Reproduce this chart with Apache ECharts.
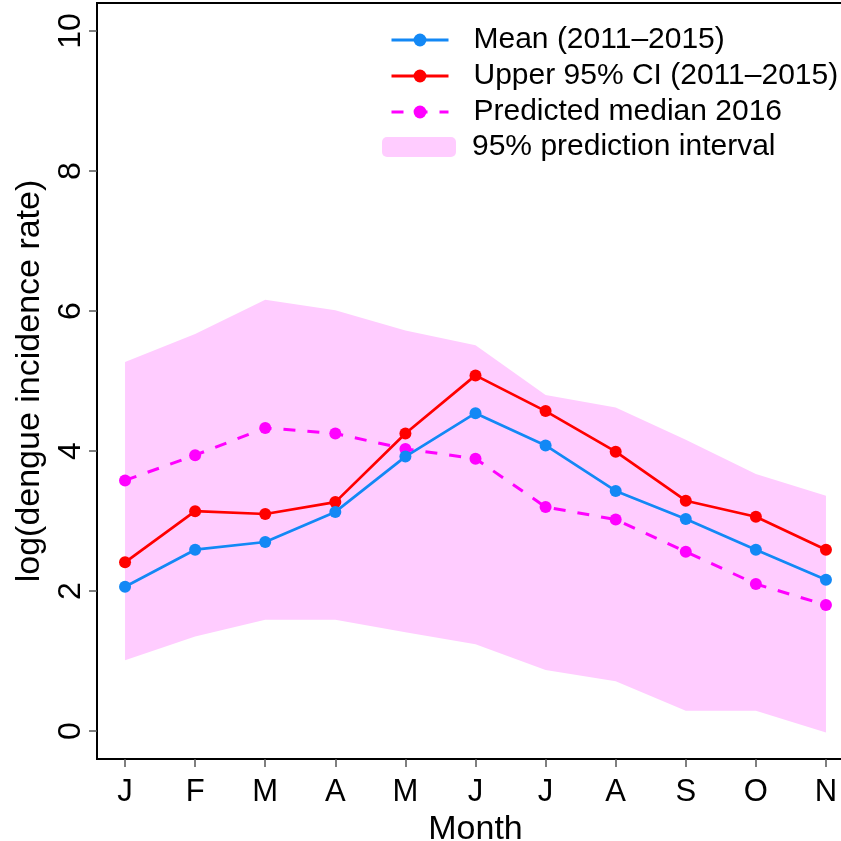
<!DOCTYPE html>
<html>
<head>
<meta charset="utf-8">
<script src="https://cdn.jsdelivr.net/npm/echarts@6/dist/echarts.min.js"></script>
<style>
    html, body { margin: 0; padding: 0; background: #fff; }
    #chart { width: 841px; height: 841px; }
</style>
</head>
<body>
<div id="chart"></div>
<script>
    'use strict'

    var months = ['J', 'F', 'M', 'A', 'M', 'J', 'J', 'A', 'S', 'O', 'N'];
    var meanRate = [2.06, 2.59, 2.70, 3.13, 3.92, 4.54, 4.08, 3.43, 3.03, 2.59, 2.16];
    var upperCI = [2.41, 3.14, 3.10, 3.27, 4.25, 5.08, 4.57, 3.99, 3.29, 3.06, 2.59];
    var predMedian = [3.58, 3.94, 4.33, 4.25, 4.03, 3.89, 3.20, 3.02, 2.56, 2.10, 1.80];
    var piLower = [1.01, 1.35, 1.59, 1.59, 1.41, 1.24, 0.87, 0.71, 0.29, 0.29, -0.02];
    var piUpper = [5.27, 5.67, 6.16, 6.01, 5.72, 5.51, 4.80, 4.62, 4.16, 3.67, 3.36];
    var yTicks = [0, 2, 4, 6, 8, 10];

    var font = 'Liberation Sans, Arial, Helvetica, sans-serif';
    var monthIdx = months.map(function (m, i) { return i; });

    function pairs(arr) {
        return arr.map(function (v, i) { return [i, v]; });
    }

    // one polygon for the prediction band: upper edge left->right, lower edge back
    function renderBand(params, api) {
        var pts = [];
        for (var i = 0; i < piUpper.length; i++) {
            pts.push(api.coord([i, piUpper[i]]));
        }
        for (var j = piLower.length - 1; j >= 0; j--) {
            pts.push(api.coord([j, piLower[j]]));
        }
        return {
            type: 'polygon',
            shape: { points: pts },
            style: { fill: '#ffccff' }
        };
    }

    var chart = echarts.init(document.getElementById('chart'));
    var option = {
        animation: false,
        backgroundColor: '#fff',
        grid: {
            left: 97,
            right: -13,
            top: 3,
            bottom: 82,
            outerBoundsMode: 'none',
            containLabel: false,
            show: true,
            borderColor: '#000',
            borderWidth: 2,
            backgroundColor: 'transparent'
        },
        legend: [{
            orient: 'vertical',
            left: 390,
            top: 25,
            padding: 0,
            itemGap: 6,
            itemWidth: 57,
            itemHeight: 16,
            lineStyle: { width: 3 },
            data: ['Mean (2011\u20132015)', 'Upper 95% CI (2011\u20132015)', 'Predicted median 2016'],
            textStyle: {
                fontFamily: font,
                fontSize: 30,
                lineHeight: 30,
                color: '#000',
                padding: [0, 0, 0, 20]
            }
        }, {
            orient: 'vertical',
            left: 382,
            top: 132,
            padding: 0,
            itemWidth: 74,
            itemHeight: 20,
            data: [{
                name: '95% prediction interval',
                icon: 'roundRect',
                itemStyle: { color: '#ffccff', opacity: 1 }
            }],
            textStyle: {
                fontFamily: font,
                fontSize: 30,
                lineHeight: 30,
                color: '#000',
                padding: [0, 0, 0, 11]
            }
        }],
        xAxis: {
            type: 'value',
            min: -0.4,
            max: 10.4,
            name: 'Month',
            nameLocation: 'middle',
            nameGap: 50,
            nameTextStyle: { fontFamily: font, fontSize: 34, color: '#000' },
            splitLine: { show: false },
            axisLine: { show: true, onZero: false, lineStyle: { color: '#000', width: 2 } },
            axisTick: {
                show: true,
                customValues: monthIdx,
                length: 8,
                lineStyle: { color: '#555', width: 1.5 }
            },
            axisLabel: {
                customValues: monthIdx,
                margin: 18,
                fontFamily: font,
                fontSize: 31,
                color: '#000',
                formatter: function (v) { return months[Math.round(v)]; }
            }
        },
        yAxis: {
            type: 'value',
            min: -0.4,
            max: 10.4,
            name: 'log(dengue incidence rate)',
            nameLocation: 'middle',
            nameGap: 42,
            nameTextStyle: { fontFamily: font, fontSize: 34, color: '#000' },
            splitLine: { show: false },
            axisLine: { show: true, onZero: false, lineStyle: { color: '#000', width: 2 } },
            axisTick: {
                show: true,
                customValues: yTicks,
                length: 8,
                lineStyle: { color: '#555', width: 1.5 }
            },
            axisLabel: {
                customValues: yTicks,
                rotate: 90,
                margin: 10,
                fontFamily: font,
                fontSize: 32,
                color: '#000'
            }
        },
        series: [{
            name: '95% prediction interval',
            type: 'custom',
            renderItem: renderBand,
            data: [[0, 0]],
            color: '#ffccff',
            silent: true,
            clip: true,
            z: 1
        }, {
            name: 'Predicted median 2016',
            type: 'line',
            data: pairs(predMedian),
            symbol: 'circle',
            symbolSize: 12,
            color: '#ff00ff',
            lineStyle: { color: '#ff00ff', width: 3, type: [12, 12] },
            z: 2
        }, {
            name: 'Upper 95% CI (2011\u20132015)',
            type: 'line',
            data: pairs(upperCI),
            symbol: 'circle',
            symbolSize: 12,
            color: '#ff0000',
            lineStyle: { color: '#ff0000', width: 2.7 },
            z: 3
        }, {
            name: 'Mean (2011\u20132015)',
            type: 'line',
            data: pairs(meanRate),
            symbol: 'circle',
            symbolSize: 12,
            color: '#1388f5',
            lineStyle: { color: '#1388f5', width: 2.7 },
            z: 4
        }]
    };
    chart.setOption(option);
    window.addEventListener('resize', function () {
        chart.resize();
    })
</script>
</body>
</html>
